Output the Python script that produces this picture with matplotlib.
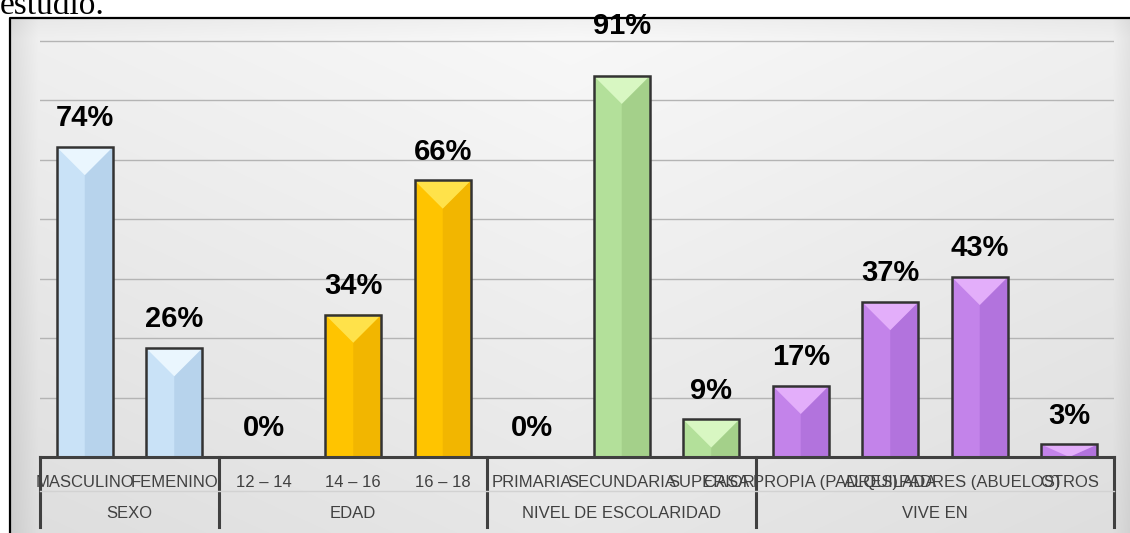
import numpy as np
import matplotlib
matplotlib.use("Agg")
import matplotlib.pyplot as plt
from matplotlib import font_manager
from matplotlib.transforms import blended_transform_factory

# data
groups = ["SEXO", "EDAD", "NIVEL DE ESCOLARIDAD", "VIVE EN"]
categories = [
    ["MASCULINO", "FEMENINO"],
    ["12 – 14", "14 – 16", "16 – 18"],
    ["PRIMARIA", "SECUNDARIA", "SUPERIOR"],
    ["CASA PROPIA (PADRES)", "ALQUILADA", "PADRES (ABUELOS)", "OTROS"],
]
values = [
    [74, 26],
    [0, 34, 66],
    [0, 91, 9],
    [17, 37, 43, 3],
]
# (base, right shade, top bevel)
palette = [
    ("#c9e2f7", "#b7d3ec", "#eaf6fe"),
    ("#ffc400", "#f2b600", "#ffe24a"),
    ("#b3e09a", "#a4d08a", "#d8f7c2"),
    ("#c383ea", "#b273dd", "#e3aefa"),
]

names = {f.name for f in font_manager.fontManager.ttflist}
narrow = "Liberation Sans Narrow" if "Liberation Sans Narrow" in names else "Liberation Sans"

W, H = 1130, 533
fig = plt.figure(figsize=(W / 100, H / 100), dpi=100)

# panel background with a soft gradient
bg = fig.add_axes([0, 0, 1, 1], zorder=-10)
yy, xx = np.mgrid[0:H, 0:W].astype(float)
v = 0.975 - 0.07 * (yy - 18) / (H - 18) - 0.035 * np.abs(xx - 570) / 560
v -= 0.07 * np.clip(1 - (xx - 10) / 28, 0, 1)
v -= 0.05 * np.clip(1 - (W - xx) / 18, 0, 1)
v -= 0.03 * np.clip(1 - (yy - 18) / 20, 0, 1)
v = np.clip(v, 0, 1)
inside = (xx >= 10) & (yy >= 18)
v[~inside] = 1.0
bg.imshow(np.dstack([v, v, v]), extent=(0, W, H, 0), aspect="auto")
bg.plot([10, 10, W], [H, 18, 18], color="black", lw=1.6)
bg.set_xlim(0, W)
bg.set_ylim(H, 0)
bg.axis("off")

fig.text(0.0, 1 - 14 / H, "estudio.", family="Liberation Serif", fontsize=24,
         ha="left", va="baseline")

left, right, base, top = 40, 1114, 457, 38
ax = fig.add_axes([left / W, (H - base) / H, (right - left) / W, (base - top) / H])
ax.patch.set_alpha(0)

flat_labels = [c for cats in categories for c in cats]
n = len(flat_labels)
ax.set_xlim(-0.5, n - 0.5)
ax.set_ylim(0, 100)
for gy in np.arange(1, 8) * 14.2:
    ax.axhline(gy, color="#b4b4b4", lw=1.0, zorder=0)

px_per_unit = (base - top) / 100
bw = 0.63
depth = bw * (right - left) / n / 2 / px_per_unit  # bevel depth in data units

pos = 0
bounds = [-0.5]
for gi, (cats, vals) in enumerate(zip(categories, values)):
    c_base, c_right, c_top = palette[gi]
    for cat, val in zip(cats, vals):
        x0, x1, xc = pos - bw / 2, pos + bw / 2, pos
        if val > 0:
            ax.bar(pos, val, width=bw, color=c_base, edgecolor="none", zorder=2)
            d = min(depth, val)
            ax.fill([xc, x1, x1, xc], [val - d, val, 0, 0], color=c_right, lw=0, zorder=2.1)
            ax.fill([x0, x1, xc], [val, val, val - d], color=c_top, lw=0, zorder=2.2)
            ax.bar(pos, val, width=bw, fill=False, edgecolor="#333333", lw=1.8, zorder=2.3)
        ly = 99.5 if val > 85 else val + 3.5
        ax.text(pos, ly, f"{val}%", ha="center", va="bottom", fontsize=21,
                fontweight="bold", family=narrow, color="black", clip_on=False)
        pos += 1
    bounds.append(pos - 0.5)

ax.set_xticks(range(n))
ax.set_xticklabels(flat_labels, family=narrow, fontsize=12, color="#404040")
ax.tick_params(axis="x", length=0, pad=13)
ax.set_yticks([])
for s in ax.spines.values():
    s.set_visible(False)
ax.axhline(0, color="#404040", lw=2.2, zorder=3, clip_on=False)

trans = blended_transform_factory(ax.transData, ax.transAxes)
sep_low = -70 / (base - top)
for b in bounds:
    ax.plot([b, b], [0, sep_low], transform=trans, color="#404040", lw=2.2, clip_on=False)
ax.plot([-0.5, n - 0.5], [-34 / (base - top)] * 2, transform=trans, color="#d2d2d2",
        lw=1.0, clip_on=False)
for gi, g in enumerate(groups):
    mid = (bounds[gi] + bounds[gi + 1]) / 2
    ax.text(mid, -56 / (base - top), g, transform=trans, ha="center", va="center",
            family=narrow, fontsize=12, color="#404040")

fig.savefig("out.png", dpi=100)
